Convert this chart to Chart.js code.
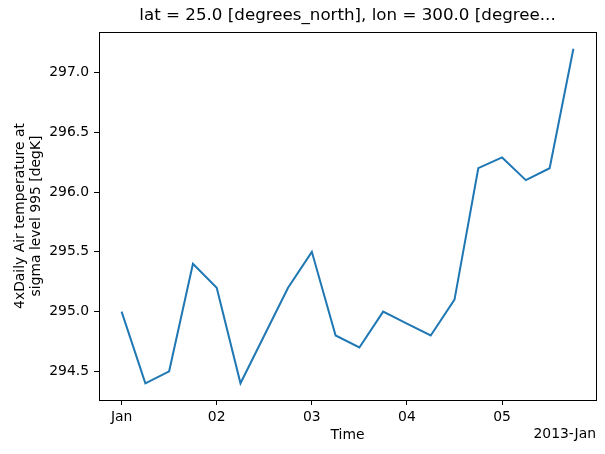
<!DOCTYPE html>
<html>
<head>
<meta charset="utf-8">
<script src="https://cdn.jsdelivr.net/npm/chart.js@4"></script>
<style>
  html, body { margin: 0; padding: 0; background: #fff; }
  #wrap { width: 605px; height: 454px; }
</style>
</head>
<body>
<div id="wrap"><canvas id="chart" width="605" height="454"></canvas></div>
<script>
// hours since 2013-01-01 00:00, 6-hourly
const hours = [0, 6, 12, 18, 24, 30, 36, 42, 48, 54, 60, 66, 72, 78, 84, 90, 96, 102, 108, 114];
const airTemp = [295.0, 294.4, 294.5, 295.4, 295.2, 294.4, 294.8, 295.2, 295.5, 294.8,
                 294.7, 295.0, 294.9, 294.8, 295.1, 296.2, 296.29, 296.1, 296.2, 297.2];
const xTickHours = [0, 24, 48, 72, 96];
const xTickLabels = ['Jan', '02', '03', '04', '05'];
const yTicks = [294.5, 295.0, 295.5, 296.0, 296.5, 297.0];

const FONT = 'DejaVu Sans';
const FS = 13.9;

// frame around the plot + title and offset text
const framePlugin = {
  id: 'frame',
  afterDraw(chart) {
    const { ctx, chartArea: a } = chart;
    ctx.save();
    ctx.strokeStyle = '#000';
    ctx.lineWidth = 1;
    ctx.strokeRect(Math.round(a.left) + 0.5, Math.round(a.top) + 0.5,
      Math.round(a.right - a.left), Math.round(a.bottom - a.top));
    ctx.fillStyle = '#000';
    ctx.font = '16.7px "' + FONT + '"';
    ctx.textAlign = 'center';
    ctx.textBaseline = 'middle';
    ctx.fillText('lat = 25.0 [degrees_north], lon = 300.0 [degree...', (a.left + a.right) / 2, 16);
    ctx.font = FS + 'px "' + FONT + '"';
    ctx.textAlign = 'right';
    ctx.fillText('2013-Jan', a.right, 434);
    ctx.restore();
  }
};

new Chart(document.getElementById('chart'), {
  type: 'line',
  data: {
    datasets: [{
      data: hours.map((h, i) => ({ x: h, y: airTemp[i] })),
      borderColor: '#1f77b4',
      borderWidth: 2,
      pointRadius: 0,
      tension: 0,
      fill: false
    }]
  },
  options: {
    responsive: false,
    animation: false,
    layout: { padding: { top: 32, right: 9, left: 0, bottom: 0 } },
    plugins: { legend: { display: false }, tooltip: { enabled: false }, title: { display: false } },
    scales: {
      x: {
        type: 'linear',
        min: -5.7,
        max: 119.7,
        afterBuildTicks: s => { s.ticks = xTickHours.map(v => ({ value: v })); },
        afterFit: s => { s.height = 54; },
        ticks: {
          color: '#000',
          font: { family: FONT, size: FS },
          padding: 4,
          maxRotation: 0,
          callback: v => xTickLabels[xTickHours.indexOf(v)]
        },
        grid: { drawOnChartArea: false, drawTicks: true, tickLength: 5, color: '#000' },
        border: { display: false },
        title: {
          display: true,
          text: 'Time',
          color: '#000',
          font: { family: FONT, size: FS },
          padding: { top: 0, bottom: 10 }
        }
      },
      y: {
        min: 294.26,
        max: 297.34,
        afterBuildTicks: s => { s.ticks = yTicks.map(v => ({ value: v })); },
        afterFit: s => { s.width = 99; },
        ticks: {
          color: '#000',
          font: { family: FONT, size: FS },
          padding: 5,
          callback: v => v.toFixed(1)
        },
        grid: { drawOnChartArea: false, drawTicks: true, tickLength: 5, color: '#000' },
        border: { display: false },
        title: {
          display: true,
          text: ['4xDaily Air temperature at', 'sigma level 995 [degK]'],
          color: '#000',
          font: { family: FONT, size: FS, lineHeight: 1.1 },
          padding: { top: 13, bottom: 0 }
        }
      }
    }
  },
  plugins: [framePlugin]
});
</script>
</body>
</html>
